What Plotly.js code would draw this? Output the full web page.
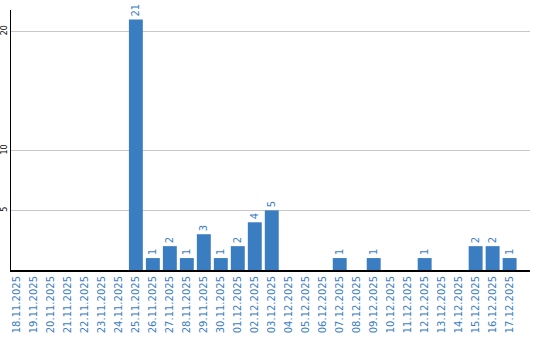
<!DOCTYPE html>
<html><head><meta charset="utf-8">
<script src="https://cdn.plot.ly/plotly-3.0.1.min.js"></script>
<style>html,body{margin:0;padding:0;background:#fff}#c{width:540px;height:340px}</style>
</head><body><div id="c"></div>
<script>
const dates = ["18.11.2025","19.11.2025","20.11.2025","21.11.2025","22.11.2025","23.11.2025","24.11.2025","25.11.2025","26.11.2025","27.11.2025","28.11.2025","29.11.2025","30.11.2025","01.12.2025","02.12.2025","03.12.2025","04.12.2025","05.12.2025","06.12.2025","07.12.2025","08.12.2025","09.12.2025","10.12.2025","11.12.2025","12.12.2025","13.12.2025","14.12.2025","15.12.2025","16.12.2025","17.12.2025"];
const counts = [0,0,0,0,0,0,0,21,1,2,1,3,1,2,4,5,0,0,0,1,0,1,0,0,1,0,0,2,2,1];
const yTicks = [5,10,20];

const blue = "#3b7dc1";
Plotly.newPlot("c", [{
  type: "bar",
  x: dates,
  y: counts,
  text: counts.map(v => v ? String(v) : ""),
  textposition: "outside",
  textangle: -90,
  constraintext: "none",
  cliponaxis: false,
  textfont: {family: "DejaVu Sans", size: 10, color: blue},
  marker: {color: blue},
  hoverinfo: "none"
}], {
  width: 540, height: 340,
  margin: {l: 11, r: 10, t: 10, b: 70, pad: 0},
  paper_bgcolor: "#fff", plot_bgcolor: "#fff",
  bargap: 0.18,
  showlegend: false,
  xaxis: {
    type: "category",
    range: [-0.35, 30.2],
    tickangle: -90,
    tickfont: {family: "DejaVu Sans", size: 10, color: blue},
    showgrid: false,
    showline: true, linecolor: "#000", linewidth: 2,
    ticks: "", automargin: false
  },
  yaxis: {
    range: [0, 21.8],
    tickvals: yTicks,
    ticktext: yTicks.map(String),
    tickangle: -90,
    tickfont: {family: "DejaVu Sans", size: 8, color: "#000"},
    showgrid: true, gridcolor: "#c8c8c8", gridwidth: 1,
    zeroline: false,
    showline: true, linecolor: "#000", linewidth: 1,
    ticks: "", automargin: false
  }
}, {displayModeBar: false, staticPlot: true});
</script>
</body></html>
